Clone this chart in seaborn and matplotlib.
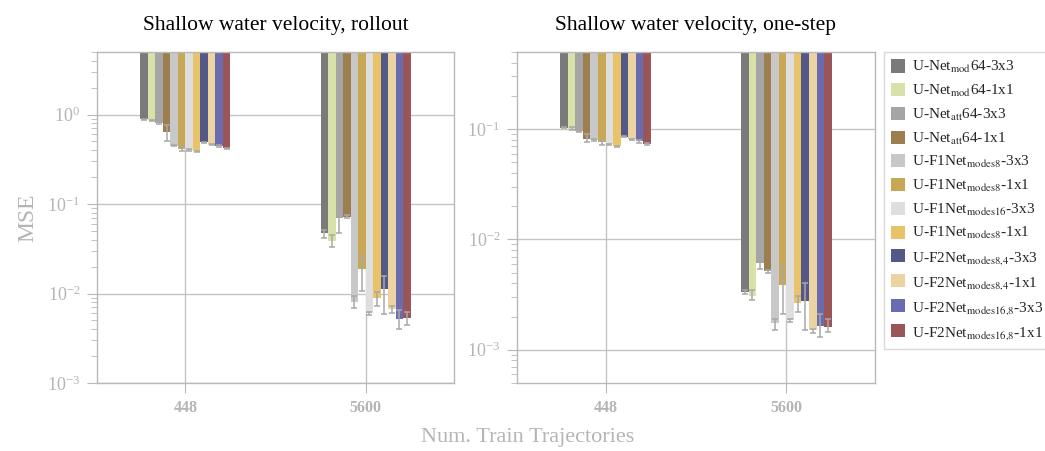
import numpy as np
import pandas as pd
import matplotlib
matplotlib.use("Agg")
import matplotlib.pyplot as plt
import seaborn as sns
from matplotlib.patches import Patch
from matplotlib.ticker import LogLocator, NullFormatter

# ---------------- data ----------------
trajectories = ["448", "5600"]

model_ids = ["m1", "m2", "m3", "m4", "m5", "m6", "m7", "m8", "m9", "m10", "m11", "m12"]
model_labels = [
    r"U-Net$_{\mathrm{mod}}$64-3x3",
    r"U-Net$_{\mathrm{mod}}$64-1x1",
    r"U-Net$_{\mathrm{att}}$64-3x3",
    r"U-Net$_{\mathrm{att}}$64-1x1",
    r"U-F1Net$_{\mathrm{modes8}}$-3x3",
    r"U-F1Net$_{\mathrm{modes8}}$-1x1",
    r"U-F1Net$_{\mathrm{modes16}}$-3x3",
    r"U-F1Net$_{\mathrm{modes8}}$-1x1",
    r"U-F2Net$_{\mathrm{modes8{,}4}}$-3x3",
    r"U-F2Net$_{\mathrm{modes8{,}4}}$-1x1",
    r"U-F2Net$_{\mathrm{modes16{,}8}}$-3x3",
    r"U-F2Net$_{\mathrm{modes16{,}8}}$-1x1",
]
model_colors = ["#7a7a7a", "#d9e1a9", "#a5a5a5", "#9d7f4f", "#c8c8c8", "#c8a855",
                "#dedede", "#e8c36a", "#545889", "#ebd3a2", "#6b6cb0", "#995557"]

rollout_mean_448 = [0.89, 0.86, 0.81, 0.64, 0.45, 0.415, 0.40, 0.39, 0.49, 0.46, 0.445, 0.42]
rollout_low_448 = [0.88, 0.85, 0.79, 0.51, 0.445, 0.39, 0.39, 0.385, 0.485, 0.455, 0.435, 0.415]
rollout_high_448 = [0.90, 0.87, 0.83, 0.77, 0.455, 0.44, 0.41, 0.395, 0.495, 0.465, 0.455, 0.425]

rollout_mean_5600 = [0.047, 0.0388, 0.069, 0.072, 0.0081, 0.0186, 0.0060, 0.0089, 0.0111, 0.0067, 0.0052, 0.0053]
rollout_low_5600 = [0.0417, 0.0334, 0.0477, 0.069, 0.0069, 0.0107, 0.0058, 0.0072, 0.0059, 0.0060, 0.0040, 0.0045]
rollout_high_5600 = [0.0513, 0.045, 0.089, 0.076, 0.0093, 0.0263, 0.0062, 0.0103, 0.0158, 0.0072, 0.0065, 0.0062]

onestep_mean_448 = [0.103, 0.101, 0.096, 0.082, 0.0796, 0.076, 0.0727, 0.070, 0.085, 0.0807, 0.0774, 0.074]
onestep_low_448 = [0.102, 0.098, 0.095, 0.076, 0.0785, 0.072, 0.0715, 0.069, 0.084, 0.0795, 0.0755, 0.0725]
onestep_high_448 = [0.104, 0.104, 0.097, 0.0895, 0.081, 0.080, 0.074, 0.071, 0.086, 0.082, 0.079, 0.0755]

onestep_mean_5600 = [0.00337, 0.0031, 0.0061, 0.0052, 0.00174, 0.0039, 0.00187, 0.00265, 0.00274, 0.0015, 0.00165, 0.0016]
onestep_low_5600 = [0.0032, 0.0028, 0.0054, 0.0050, 0.0015, 0.0021, 0.0018, 0.0022, 0.0015, 0.00142, 0.0013, 0.00144]
onestep_high_5600 = [0.0035, 0.0035, 0.0064, 0.0053, 0.0019, 0.0058, 0.0019, 0.0031, 0.0040, 0.00155, 0.0021, 0.0019]

titles = ["Shallow water velocity, rollout", "Shallow water velocity, one-step"]
ylims = [(1e-3, 5.0), (5e-4, 0.5)]


def make_frame(m448, l448, h448, m5600, l5600, h5600):
    rows = []
    for traj, m, l, h in [("448", m448, l448, h448), ("5600", m5600, l5600, h5600)]:
        for mid, mv, lv, hv in zip(model_ids, m, l, h):
            rows.append({"traj": traj, "model": mid, "mse": mv, "low": lv, "high": hv})
    return pd.DataFrame(rows)


frames = [
    make_frame(rollout_mean_448, rollout_low_448, rollout_high_448,
               rollout_mean_5600, rollout_low_5600, rollout_high_5600),
    make_frame(onestep_mean_448, onestep_low_448, onestep_high_448,
               onestep_mean_5600, onestep_low_5600, onestep_high_5600),
]

# ---------------- style ----------------
sns.set_theme(style="white")
plt.rcParams["font.family"] = ["Liberation Serif", "DejaVu Serif"]
plt.rcParams["mathtext.fontset"] = "stix"

gray_txt = "#b5b5b5"
spine_c = "#b8b8b8"
grid_c = "#c4c4c4"

fig = plt.figure(figsize=(10.45, 4.51), dpi=100)
ax_pos = [[0.0928, 0.1508, 0.3416, 0.7339], [0.4947, 0.1508, 0.3426, 0.7339]]
palette = dict(zip(model_ids, model_colors))

for i, df in enumerate(frames):
    ax = fig.add_axes(ax_pos[i])
    sns.barplot(data=df, x="traj", y="mse", hue="model", order=trajectories,
                hue_order=model_ids, palette=palette, errorbar=None,
                width=0.5, gap=0, legend=False, ax=ax, linewidth=0, zorder=2,
                saturation=1)
    ax.set_yscale("log")
    lo, hi = ylims[i]
    ax.set_ylim(lo, hi)
    ax.set_xlim(-0.49, 1.49)
    # bars hang from the top of the axes down to their value
    xs, vals = [], []
    for p in ax.patches:
        v = p.get_height()
        xs.append(p.get_x() + p.get_width() / 2)
        vals.append(v)
        p.set_y(v)
        p.set_height(hi * 1.5 - v)
    # error bars (patch order: hue level major, category minor)
    err_lo, err_hi = [], []
    for mid in model_ids:
        for t in trajectories:
            r = df[(df.model == mid) & (df.traj == t)].iloc[0]
            err_lo.append(r["mse"] - r["low"])
            err_hi.append(r["high"] - r["mse"])
    ax.errorbar(xs, vals, yerr=[err_lo, err_hi], fmt="none", ecolor="#a8a8a8",
                elinewidth=1.1, capsize=2.2, capthick=1.1, zorder=3)

    ax.set_title(titles[i], fontsize=15.5, color="black", pad=16)
    ax.set_xlabel("")
    ax.set_ylabel("MSE" if i == 0 else "", fontsize=17, color=gray_txt, labelpad=6)
    ax.yaxis.set_major_locator(LogLocator(base=10, numticks=10))
    ax.yaxis.set_minor_locator(LogLocator(base=10, subs=np.arange(2, 10), numticks=20))
    ax.yaxis.set_minor_formatter(NullFormatter())
    ax.grid(True, which="major", axis="both", color=grid_c, linewidth=1.0, zorder=0)
    ax.set_axisbelow(True)
    ax.tick_params(axis="y", which="major", direction="out", length=7, width=0.8,
                   color=spine_c, labelcolor=gray_txt, labelsize=13, pad=5, left=True)
    ax.tick_params(axis="y", which="minor", direction="out", length=4, width=0.6,
                   color=spine_c, left=True)
    ax.tick_params(axis="x", which="major", direction="out", length=7, width=0.8,
                   color=spine_c, labelcolor=gray_txt, labelsize=11.5, pad=5, bottom=True)
    for lab in ax.get_xticklabels():
        lab.set_fontweight("bold")
    for s in ax.spines.values():
        s.set_visible(True)
        s.set_color(spine_c)
        s.set_linewidth(1.0)

fig.text(0.505, 0.031, "Num. Train Trajectories", ha="center", va="center",
         fontsize=16, color=gray_txt)

handles = [Patch(facecolor=c, edgecolor="none") for c in model_colors]
leg = fig.legend(handles, model_labels, loc="upper left", bbox_to_anchor=(0.846, 0.884),
                 frameon=True, fontsize=11, handlelength=0.95, handleheight=0.95,
                 handletextpad=0.4, labelspacing=0.5, borderpad=0.45, borderaxespad=0.0,
                 fancybox=False)
leg.get_frame().set_edgecolor("#d0d0d0")
leg.get_frame().set_linewidth(1.0)

fig.savefig("out.png", dpi=100)
